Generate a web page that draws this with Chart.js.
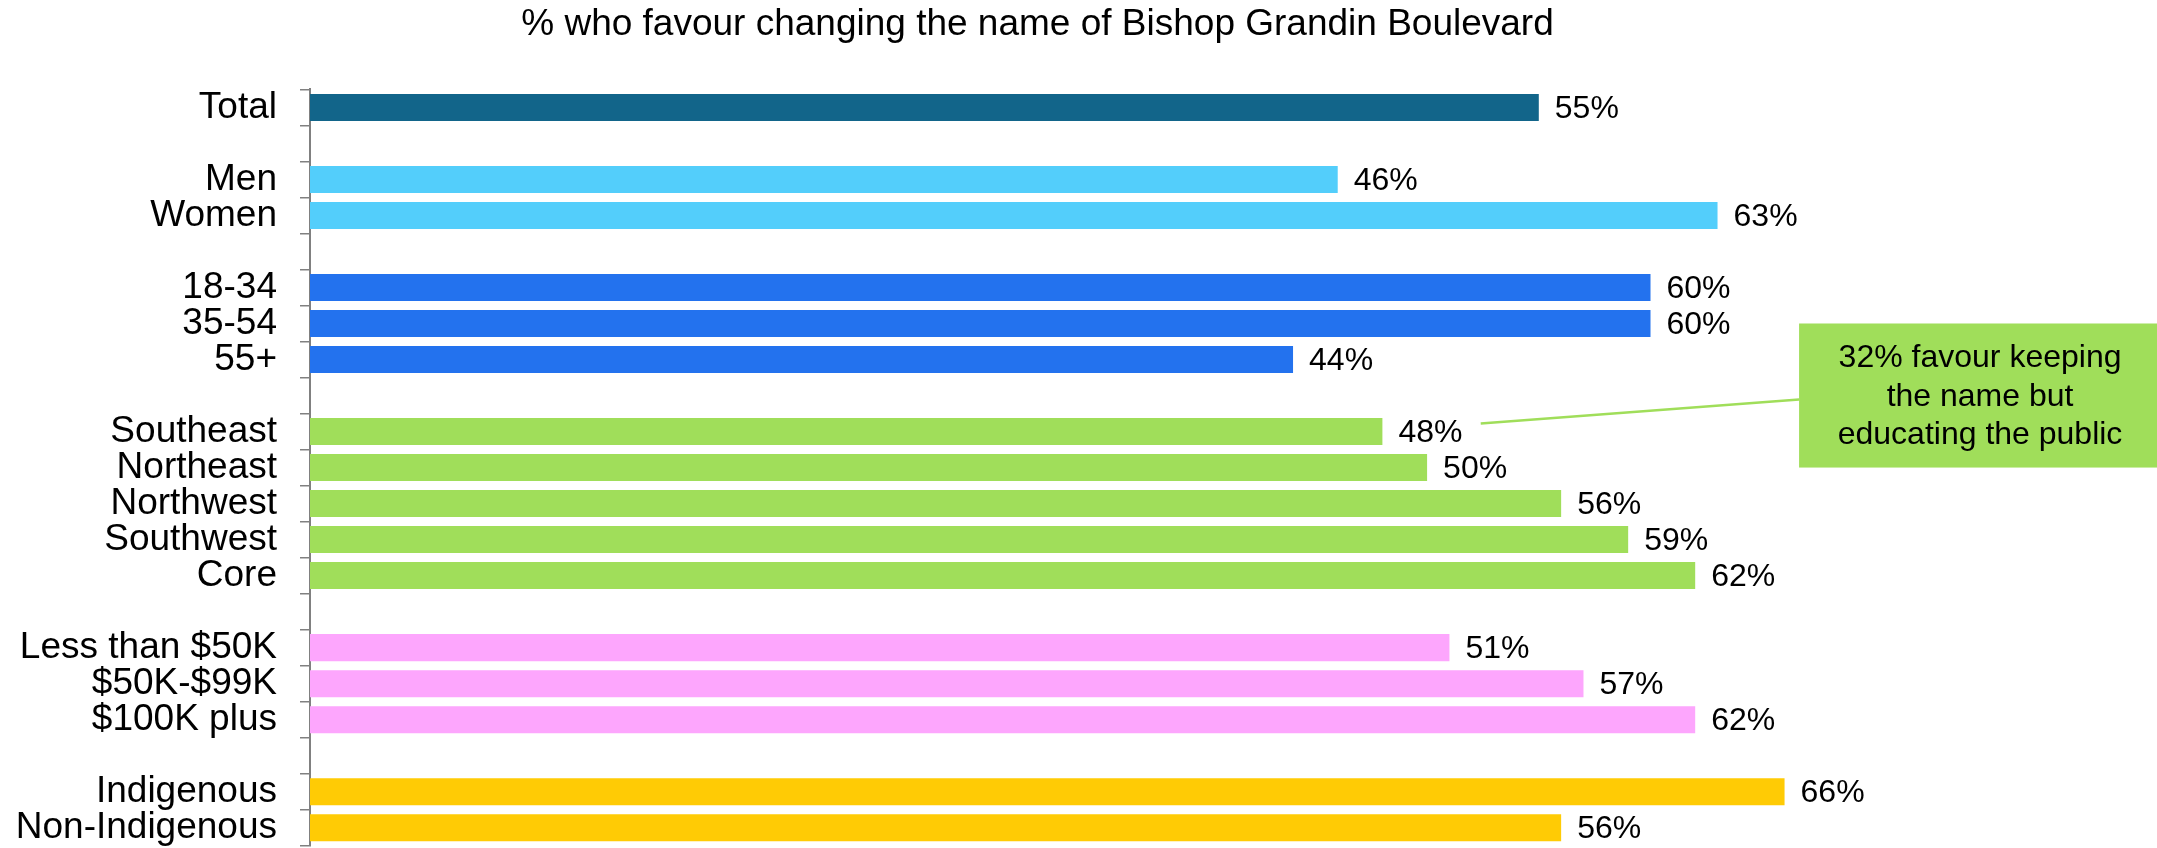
<!DOCTYPE html>
<html>
<head>
<meta charset="utf-8">
<script src="https://cdn.jsdelivr.net/npm/chart.js@4/dist/chart.umd.min.js"></script>
<style>
  html, body { margin: 0; padding: 0; background: #fff; }
  #wrap { width: 2157px; height: 848px; position: relative; }
</style>
</head>
<body>
<div id="wrap"><canvas id="c"></canvas></div>
<script>
// ---- Data ----
const TITLE = '% who favour changing the name of Bishop Grandin Boulevard';
const categories = ['Total', '', 'Men', 'Women', '', '18-34', '35-54', '55+', '',
  'Southeast', 'Northeast', 'Northwest', 'Southwest', 'Core', '',
  'Less than $50K', '$50K-$99K', '$100K plus', '', 'Indigenous', 'Non-Indigenous'];
const values = [55, null, 46, 63, null, 60, 60, 44, null,
  48, 50, 56, 59, 62, null,
  51, 57, 62, null, 66, 56];
const groups = ['total', '', 'gender', 'gender', '', 'age', 'age', 'age', '',
  'region', 'region', 'region', 'region', 'region', '',
  'income', 'income', 'income', '', 'indig', 'indig'];
const groupColors = {
  total: '#12658A', gender: '#53CEFB', age: '#2372EE',
  region: '#A0DE5A', income: '#FDA6FD', indig: '#FFCB05', '': '#ffffff'
};
const annotationLines = ['32% favour keeping', 'the name but', 'educating the public'];

const FONT = '"Liberation Sans", Arial, Helvetica, sans-serif';

const barColors = groups.map(g => groupColors[g]);

const valueLabels = {
  id: 'valueLabels',
  afterDatasetsDraw(chart) {
    const ctx = chart.ctx;
    const meta = chart.getDatasetMeta(0);
    ctx.save();
    ctx.font = '32px ' + FONT;
    ctx.fillStyle = '#000';
    ctx.textAlign = 'left';
    ctx.textBaseline = 'middle';
    meta.data.forEach((el, i) => {
      const v = values[i];
      if (v === null || v === undefined) return;
      ctx.fillText(v + '%', el.x + 16, el.y + 1.5);
    });
    ctx.restore();
  }
};

const annotation = {
  id: 'annotation',
  afterDraw(chart) {
    const ctx = chart.ctx;
    const xs = chart.scales.x, ys = chart.scales.y;
    const left = xs.getPixelForValue(66.65);
    const right = chart.width;
    const top = ys.getPixelForValue(6);
    const bottom = ys.getPixelForValue(10);
    const cy = (top + bottom) / 2;
    ctx.save();
    const seIdx = categories.indexOf('Southeast');
    ctx.strokeStyle = '#A0DE5A';
    ctx.lineWidth = 2.5;
    ctx.beginPath();
    ctx.moveTo(xs.getPixelForValue(52.4), ys.getPixelForValue(seIdx) - 8);
    ctx.lineTo(left, cy + 4);
    ctx.stroke();
    ctx.fillStyle = '#A0DE5A';
    ctx.fillRect(left, top, right - left, bottom - top);
    ctx.fillStyle = '#000';
    ctx.font = '32px ' + FONT;
    ctx.textAlign = 'center';
    ctx.textBaseline = 'middle';
    const cx = (left + right) / 2;
    annotationLines.forEach((t, k) => {
      ctx.fillText(t, cx + 2, cy + (k - 1) * 38.5 + 1.5);
    });
    ctx.restore();
  }
};

new Chart(document.getElementById('c'), {
  type: 'bar',
  data: {
    labels: categories,
    datasets: [{
      data: values,
      backgroundColor: barColors,
      borderWidth: 0,
      barPercentage: 0.75,
      categoryPercentage: 1.0
    }]
  },
  options: {
    indexAxis: 'y',
    responsive: true,
    maintainAspectRatio: false,
    animation: false,
    layout: { padding: { top: 0, right: 82, bottom: 2.3, left: 0 } },
    plugins: {
      legend: { display: false },
      tooltip: { enabled: false },
      title: {
        display: true,
        text: TITLE,
        color: '#000',
        font: { family: FONT, size: 37, weight: 'normal', lineHeight: 1.2 },
        padding: { top: 3, bottom: 42 }
      }
    },
    scales: {
      x: { display: false, min: 0, max: 79 },
      y: {
        afterFit(s) { s.width = 310; s.paddingTop = 0; s.paddingBottom = 0; },
        grid: {
          display: true, drawOnChartArea: false, drawTicks: true,
          tickLength: 10, color: '#808080', lineWidth: 1.5, offset: true
        },
        border: { display: true, color: '#808080', width: 2 },
        ticks: {
          autoSkip: false,
          color: '#000',
          padding: 23,
          font: { family: FONT, size: 37 }
        }
      }
    }
  },
  plugins: [valueLabels, annotation]
});
</script>
</body>
</html>
